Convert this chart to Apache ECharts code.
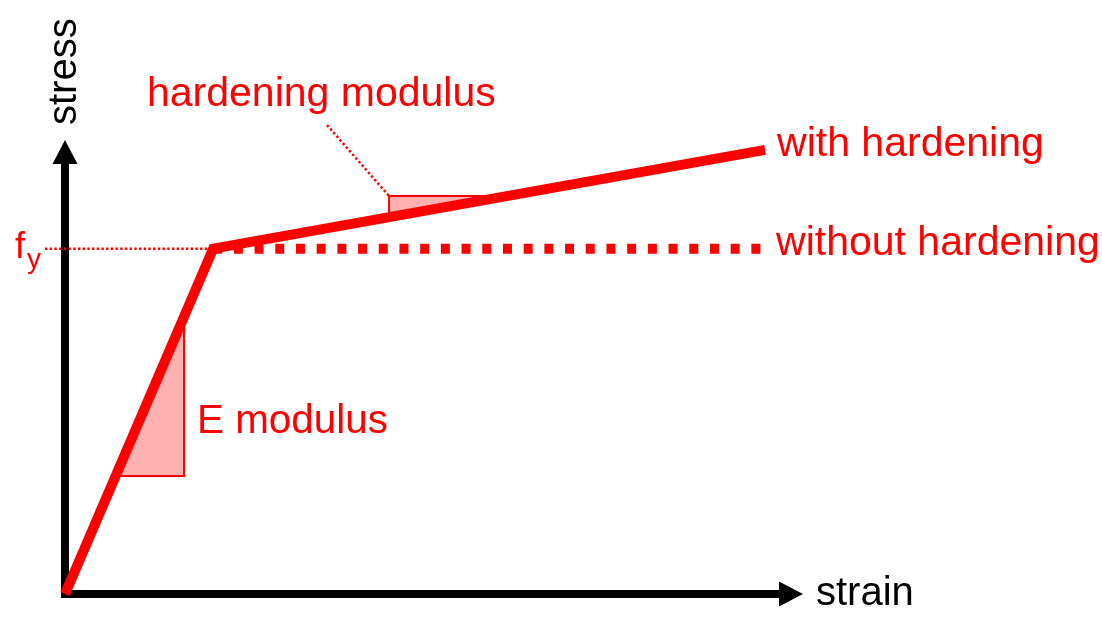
<!DOCTYPE html>
<html>
<head>
<meta charset="utf-8">
<title>stress-strain</title>
<script src="https://cdn.jsdelivr.net/npm/echarts@6/dist/echarts.min.js"></script>
<style>
  html, body { margin: 0; padding: 0; background: #ffffff; }
  #chart { width: 1102px; height: 624px; }
</style>
</head>
<body>
<div id="chart"></div>
<script>
// Bilinear stress-strain model (strain in per mille, stress in arbitrary units, fy = 10)
const hardeningStrain = [0, 2.0, 9.45];
const hardeningStress = [0, 10.0, 12.86];

const perfectStrain = [2.0, 9.45];
const perfectStress = [10.0, 10.0];

// thin guide from the fy label to the yield point
const yieldGuideStrain = [-0.27, 2.0];
const yieldGuideStress = [10.0, 10.0];

// slope triangles (strain, stress corners)
const eModulusTriangle = [0.684, 3.42, 1.607, 3.42, 1.607, 8.035];
const hardeningTriangle = [4.374, 10.911, 4.374, 11.526, 5.975, 11.526];

// leader from the "hardening modulus" caption to its triangle
const leaderStrain = [3.537, 4.374];
const leaderStress = [13.58, 11.526];

const RED = '#ff0000';
const FONT = '"Liberation Sans", Arial, sans-serif';

function zipXY(xs, ys) {
  return xs.map((x, i) => [x, ys[i]]);
}

// dotted segment drawn through the axes' scales, free of grid clipping
function dottedSegment(name, xs, ys, dash) {
  return {
    name: name,
    type: 'custom',
    z: 2,
    clip: false,
    silent: true,
    dimensions: ['x1', 'y1', 'x2', 'y2'],
    encode: { x: [0, 2], y: [1, 3] },
    data: [[xs[0], ys[0], xs[1], ys[1]]],
    renderItem: function (params, api) {
      const a = api.coord([api.value(0), api.value(1)]);
      const b = api.coord([api.value(2), api.value(3)]);
      return {
        type: 'line',
        shape: { x1: a[0], y1: a[1], x2: b[0], y2: b[1] },
        style: { stroke: RED, lineWidth: 2.5, lineDash: dash, lineCap: 'butt' }
      };
    }
  };
}

const chart = echarts.init(document.getElementById('chart'), null, { renderer: 'canvas' });

chart.setOption({
  animation: false,
  backgroundColor: '#ffffff',
  grid: { left: 65, right: 311, top: 152, bottom: 30, containLabel: false },
  xAxis: {
    type: 'value',
    min: 0,
    max: 9.8,
    name: 'strain',
    nameLocation: 'end',
    nameGap: 25,
    nameTextStyle: { color: '#000000', fontSize: 40, fontFamily: FONT },
    axisLine: {
      show: true,
      onZero: false,
      symbol: ['none', 'triangle'],
      symbolSize: [25, 24],
      lineStyle: { color: '#000000', width: 8, cap: 'square' }
    },
    axisTick: { show: false },
    axisLabel: { show: false },
    splitLine: { show: false }
  },
  yAxis: {
    type: 'value',
    min: 0,
    max: 12.8,
    name: 'stress',
    nameLocation: 'end',
    nameRotate: 90,
    nameGap: 27,
    nameTextStyle: { color: '#000000', fontSize: 40, fontFamily: FONT },
    axisLine: {
      show: true,
      onZero: false,
      symbol: ['none', 'triangle'],
      symbolSize: [25, 24],
      lineStyle: { color: '#000000', width: 8, cap: 'square' }
    },
    axisTick: { show: false },
    axisLabel: { show: false },
    splitLine: { show: false }
  },
  series: [
    {
      name: 'slope triangles',
      type: 'custom',
      z: 1,
      clip: false,
      dimensions: ['x1', 'y1', 'x2', 'y2', 'x3', 'y3'],
      encode: { x: [0, 2, 4], y: [1, 3, 5] },
      data: [eModulusTriangle, hardeningTriangle],
      renderItem: function (params, api) {
        const pts = [
          api.coord([api.value(0), api.value(1)]),
          api.coord([api.value(2), api.value(3)]),
          api.coord([api.value(4), api.value(5)])
        ];
        return {
          type: 'polygon',
          shape: { points: pts },
          style: { fill: '#ffb0b0', stroke: RED, lineWidth: 2 }
        };
      }
    },
    dottedSegment('fy guide', yieldGuideStrain, yieldGuideStress, [2.4, 2.3]),
    dottedSegment('leader', leaderStrain, leaderStress, [2.4, 2.4]),
    {
      name: 'without hardening',
      type: 'line',
      z: 3,
      clip: false,
      symbol: 'none',
      data: zipXY(perfectStrain, perfectStress),
      lineStyle: { color: RED, width: 10, type: [9, 11.7], cap: 'butt' },
      endLabel: {
        show: true,
        formatter: 'without hardening',
        color: RED,
        fontSize: 41,
        fontFamily: FONT,
        distance: 11,
        offset: [0, -5]
      }
    },
    {
      name: 'with hardening',
      type: 'line',
      z: 4,
      clip: false,
      symbol: 'none',
      data: zipXY(hardeningStrain, hardeningStress),
      lineStyle: { color: RED, width: 10, cap: 'butt', join: 'miter' },
      endLabel: {
        show: true,
        formatter: 'with hardening',
        color: RED,
        fontSize: 41,
        fontFamily: FONT,
        distance: 12,
        offset: [0, -5]
      }
    }
  ],
  graphic: [
    {
      type: 'text',
      left: 147,
      top: 74,
      style: { text: 'hardening modulus', fill: RED, font: '41px ' + FONT }
    },
    {
      type: 'text',
      left: 197,
      top: 402,
      style: { text: 'E modulus', fill: RED, font: '40.4px ' + FONT }
    },
    {
      type: 'text',
      left: 15,
      top: 230,
      style: { text: 'f', fill: RED, font: '36px ' + FONT }
    },
    {
      type: 'text',
      left: 27,
      top: 246,
      style: { text: 'y', fill: RED, font: '28px ' + FONT }
    }
  ]
});
</script>
</body>
</html>
